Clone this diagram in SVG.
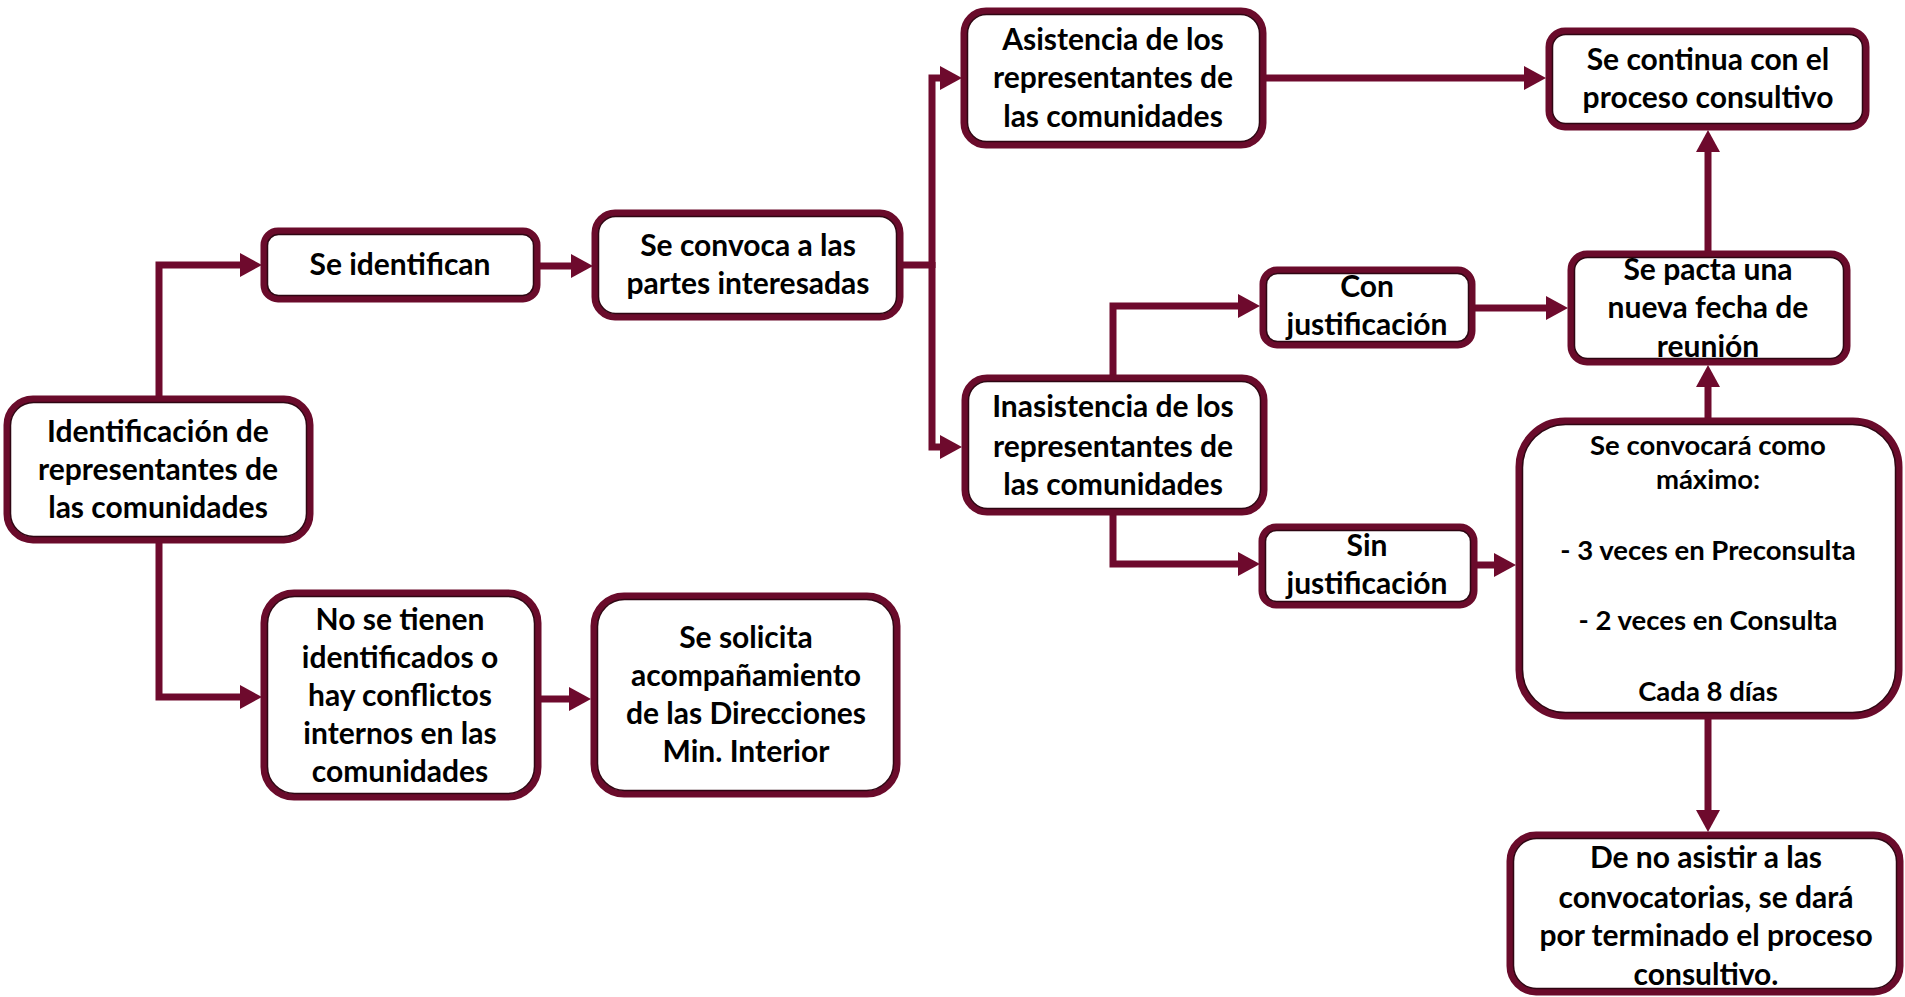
<svg xmlns="http://www.w3.org/2000/svg" width="1905" height="997" viewBox="0 0 1905 997">
<defs>
<style>
.box{fill:#ffffff;stroke:#6a0b2b;stroke-width:7}
.in{fill:none;stroke:#2e0512;stroke-width:1.5}
.t{font-family:Lato,"Open Sans","Liberation Sans",sans-serif;font-weight:bold;font-size:30px;fill:#000;text-anchor:middle}
.s{font-size:27.5px}
.c{fill:none;stroke:#6e0a2d;stroke-width:7;marker-end:url(#ah)}
.cn{fill:none;stroke:#6e0a2d;stroke-width:7}
</style>
<marker id="ah" markerUnits="userSpaceOnUse" markerWidth="24" markerHeight="26" refX="12" refY="12" orient="auto" viewBox="0 0 24 24">
<path d="M0,0 L22,12 L0,24 z" fill="#6e0a2d"/>
</marker>
</defs>
<rect width="1905" height="997" fill="#ffffff"/>
<g id="connectors">
<path class="c" d="M159 399 V265 H252"/>
<path class="c" d="M159 540 V697 H252"/>
<path class="c" d="M537 266 H583"/>
<path class="c" d="M538 699 H581"/>
<path class="cn" d="M900 265 H932"/>
<path class="c" d="M932 268 V78 H952"/>
<path class="c" d="M932 262 V447 H952"/>
<path class="c" d="M1263 78 H1536"/>
<path class="c" d="M1113 378 V306 H1250"/>
<path class="c" d="M1113 512 V564 H1250"/>
<path class="c" d="M1472 308 H1558"/>
<path class="c" d="M1474 565 H1506"/>
<path class="c" d="M1708 254 V140"/>
<path class="c" d="M1708 421 V375"/>
<path class="c" d="M1708 716 V822"/>
</g>
<g id="n1"><rect class="box" x="7" y="399" width="303" height="141" rx="26"/><rect class="in" x="10.5" y="402.5" width="296" height="134" rx="23"/>
<text class="t" x="158" y="442">Identificación de</text><text class="t" x="158" y="480">representantes de</text><text class="t" x="158" y="518">las comunidades</text></g>
<g id="n2"><rect class="box" x="264" y="231" width="273" height="68" rx="14"/><rect class="in" x="267.5" y="234.5" width="266" height="61" rx="11"/>
<text class="t" x="400" y="275">Se identifican</text></g>
<g id="n3"><rect class="box" x="595" y="213" width="305" height="104" rx="20"/><rect class="in" x="598.5" y="216.5" width="298" height="97" rx="17"/>
<text class="t" x="748" y="256">Se convoca a las</text><text class="t" x="748" y="294">partes interesadas</text></g>
<g id="n4"><rect class="box" x="964" y="11" width="299" height="134" rx="22"/><rect class="in" x="967.5" y="14.5" width="292" height="127" rx="19"/>
<text class="t" x="1113" y="50">Asistencia de los</text><text class="t" x="1113" y="88">representantes de</text><text class="t" x="1113" y="127">las comunidades</text></g>
<g id="n5"><rect class="box" x="1549" y="31" width="317" height="96" rx="16"/><rect class="in" x="1552.5" y="34.5" width="310" height="89" rx="13"/>
<text class="t" x="1708" y="70">Se continua con el</text><text class="t" x="1708" y="108">proceso consultivo</text></g>
<g id="n6"><rect class="box" x="1263" y="270" width="209" height="75" rx="14"/><rect class="in" x="1266.5" y="273.5" width="202" height="68" rx="11"/>
<text class="t" x="1367" y="297">Con</text><text class="t" x="1367" y="335">justificación</text></g>
<g id="n7"><rect class="box" x="1571" y="254" width="276" height="108" rx="16"/><rect class="in" x="1574.5" y="257.5" width="269" height="101" rx="13"/>
<text class="t" x="1708" y="280">Se pacta una</text><text class="t" x="1708" y="318">nueva fecha de</text><text class="t" x="1708" y="357">reunión</text></g>
<g id="n8"><rect class="box" x="965" y="378" width="299" height="134" rx="22"/><rect class="in" x="968.5" y="381.5" width="292" height="127" rx="19"/>
<text class="t" x="1113" y="417">Inasistencia de los</text><text class="t" x="1113" y="457">representantes de</text><text class="t" x="1113" y="495">las comunidades</text></g>
<g id="n9"><rect class="box" x="1262" y="527" width="212" height="78" rx="14"/><rect class="in" x="1265.5" y="530.5" width="205" height="71" rx="11"/>
<text class="t" x="1367" y="556">Sin</text><text class="t" x="1367" y="594">justificación</text></g>
<g id="n10"><rect class="box" x="1519" y="421" width="380" height="295" rx="46"/><rect class="in" x="1522.5" y="424.5" width="373" height="288" rx="43"/>
<text class="t s" x="1708" y="455">Se convocará como</text><text class="t s" x="1708" y="489">máximo:</text><text class="t s" x="1708" y="560">- 3 veces en Preconsulta</text><text class="t s" x="1708" y="630">- 2 veces en Consulta</text><text class="t s" x="1708" y="701">Cada 8 días</text></g>
<g id="n11"><rect class="box" x="1510" y="835" width="390" height="157" rx="26"/><rect class="in" x="1513.5" y="838.5" width="383" height="150" rx="23"/>
<text class="t" x="1706" y="868">De no asistir a las</text><text class="t" x="1706" y="908">convocatorias, se dará</text><text class="t" x="1706" y="946">por terminado el proceso</text><text class="t" x="1706" y="985">consultivo.</text></g>
<g id="n12"><rect class="box" x="264" y="593" width="274" height="204" rx="30"/><rect class="in" x="267.5" y="596.5" width="267" height="197" rx="27"/>
<text class="t" x="400" y="630">No se tienen</text><text class="t" x="400" y="668">identificados o</text><text class="t" x="400" y="706">hay conflictos</text><text class="t" x="400" y="744">internos en las</text><text class="t" x="400" y="782">comunidades</text></g>
<g id="n13"><rect class="box" x="594" y="596" width="303" height="198" rx="30"/><rect class="in" x="597.5" y="599.5" width="296" height="191" rx="27"/>
<text class="t" x="746" y="648">Se solicita</text><text class="t" x="746" y="686">acompañamiento</text><text class="t" x="746" y="724">de las Direcciones</text><text class="t" x="746" y="762">Min. Interior</text></g>
</svg>
